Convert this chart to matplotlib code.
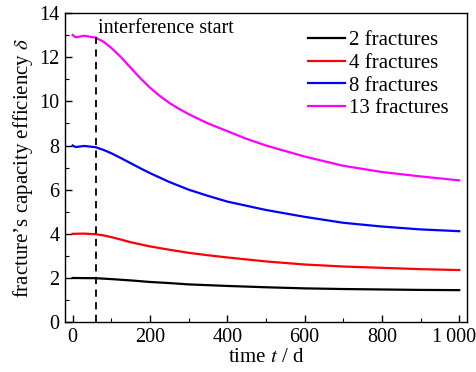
import matplotlib
matplotlib.use("Agg")
import matplotlib.pyplot as plt
import matplotlib.transforms as mtransforms
from matplotlib.ticker import MultipleLocator, FixedLocator

# values
t13 = [0, 8, 30, 60, 80, 100, 125, 150, 175, 200, 225, 250, 275, 300, 350, 400, 450, 500, 600, 700, 800, 900, 1000]
d13 = [13.0, 12.9, 12.97, 12.88, 12.7, 12.42, 12.0, 11.52, 11.05, 10.62, 10.25, 9.93, 9.66, 9.42, 9.0, 8.65, 8.3, 8.0, 7.5, 7.08, 6.8, 6.6, 6.42]

t8 = [0, 8, 30, 60, 80, 100, 125, 150, 175, 200, 250, 300, 350, 400, 500, 600, 700, 800, 900, 1000]
d8 = [8.0, 7.93, 7.98, 7.92, 7.8, 7.65, 7.43, 7.2, 6.97, 6.75, 6.35, 6.0, 5.72, 5.46, 5.08, 4.77, 4.5, 4.33, 4.2, 4.12]

t4 = [0, 30, 60, 80, 100, 125, 150, 200, 250, 300, 350, 400, 500, 600, 700, 800, 900, 1000]
d4 = [4.0, 4.01, 3.98, 3.93, 3.85, 3.74, 3.62, 3.43, 3.28, 3.14, 3.03, 2.93, 2.75, 2.61, 2.52, 2.46, 2.4, 2.36]

t2 = [0, 60, 100, 150, 200, 250, 300, 400, 500, 600, 700, 800, 900, 1000]
d2 = [2.0, 1.99, 1.95, 1.89, 1.82, 1.77, 1.71, 1.64, 1.58, 1.53, 1.5, 1.48, 1.46, 1.45]

t_start = 60
labels = ["2 fractures", "4 fractures", "8 fractures", "13 fractures"]
colors = ["black", "red", "blue", "magenta"]

plt.rcParams["font.family"] = ["Liberation Serif", "DejaVu Serif"]
plt.rcParams["mathtext.fontset"] = "stix"

fig = plt.figure(figsize=(4.77, 3.72), dpi=100)
ax = fig.add_axes([0.136, 0.134, 0.843, 0.831])

for t, d, lab, c in zip([t2, t4, t8, t13], [d2, d4, d8, d13], labels, colors):
    ax.plot(t, d, color=c, lw=1.6, label=lab)

ax.plot([t_start, t_start], [0, 13.1], color="black", lw=1.3, ls=(0, (4, 3)))
ax.text(t_start + 6, 13.3, "interference start", fontsize=14.5, va="center", ha="left")

ax.set_xlim(-20, 1020)
ax.set_ylim(0, 14)
ax.xaxis.set_major_locator(FixedLocator([0, 200, 400, 600, 800, 1000]))
ax.set_xticklabels(["0", "200", "400", "600", "800", "1\u2009000"])
ax.xaxis.set_minor_locator(MultipleLocator(100))
ax.yaxis.set_major_locator(MultipleLocator(2))
ax.yaxis.set_minor_locator(MultipleLocator(1))
ax.tick_params(which="both", direction="in", labelsize=14.5, top=False, right=False)
ax.tick_params(which="major", length=5, width=1, pad=4)
ax.tick_params(which="minor", length=3, width=0.8)
for s in ax.spines.values():
    s.set_linewidth(1.0)

# nudge "1 000" left so it stays inside the figure
lab = ax.get_xticklabels()[-1]
lab.set_transform(lab.get_transform() + mtransforms.ScaledTranslation(-5 / 100, 0, fig.dpi_scale_trans))

ax.set_xlabel("time $t$ / d", fontsize=15, labelpad=1)
ax.set_ylabel("fracture\u2019s capacity efficiency $\\delta$", fontsize=15, labelpad=3)

ax.legend(loc="upper right", frameon=False, fontsize=15, handlelength=1.75,
          handletextpad=0.2, labelspacing=0.15, borderaxespad=0.3,
          bbox_to_anchor=(0.99, 0.99))

fig.savefig("out.png", dpi=100)
